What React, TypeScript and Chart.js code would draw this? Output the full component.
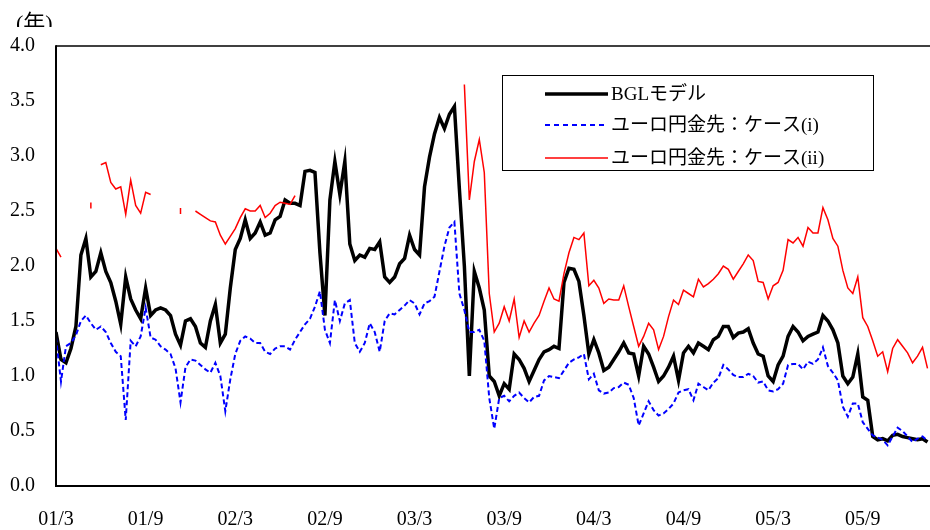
import { useEffect, useRef } from "react";
import { Chart, registerables } from "chart.js";

Chart.register(...registerables);

// Samples are taken three times a month, starting 2001/3.
const SAMPLES_PER_MONTH = 3;

const tickMonths = [0, 6, 12, 18, 24, 30, 36, 42, 48, 54];
const tickLabels = ["01/3", "01/9", "02/3", "02/9", "03/3", "03/9", "04/3", "04/9", "05/3", "05/9"];

const seriesNames = ["BGLモデル", "ユーロ円金先：ケース(i)", "ユーロ円金先：ケース(ii)"];

// BGLモデル (年)
const bglModel = [
  1.40, 1.15, 1.12, 1.25, 1.45, 2.10, 2.25, 1.90, 1.95, 2.12,
  1.95, 1.85, 1.68, 1.47, 1.90, 1.70, 1.60, 1.52, 1.80, 1.55,
  1.60, 1.62, 1.60, 1.55, 1.38, 1.28, 1.50, 1.52, 1.45, 1.30,
  1.26, 1.50, 1.65, 1.30, 1.38, 1.80, 2.15, 2.25, 2.42, 2.25,
  2.30, 2.40, 2.28, 2.30, 2.42, 2.45, 2.60, 2.57, 2.57, 2.55,
  2.86, 2.87, 2.85, 2.12, 1.55, 2.60, 2.95, 2.65, 2.95, 2.20,
  2.05, 2.10, 2.08, 2.16, 2.15, 2.22, 1.90, 1.85, 1.90, 2.02,
  2.07, 2.28, 2.15, 2.10, 2.72, 2.99, 3.20, 3.35, 3.25, 3.38,
  3.45, 2.70, 2.00, 1.00, 1.95, 1.80, 1.60, 1.00, 0.95, 0.82,
  0.93, 0.88, 1.20, 1.15, 1.07, 0.95, 1.05, 1.15, 1.22, 1.24,
  1.27, 1.25, 1.85, 1.98, 1.97, 1.86, 1.55, 1.20, 1.33, 1.21,
  1.05, 1.08, 1.15, 1.22, 1.30, 1.21, 1.20, 1.00, 1.27, 1.20,
  1.08, 0.95, 1.00, 1.08, 1.18, 0.96, 1.21, 1.27, 1.21, 1.30,
  1.27, 1.24, 1.33, 1.36, 1.45, 1.45, 1.35, 1.39, 1.40, 1.43,
  1.30, 1.20, 1.18, 1.00, 0.95, 1.10, 1.18, 1.36, 1.45, 1.40,
  1.32, 1.36, 1.38, 1.40, 1.55, 1.50, 1.42, 1.30, 1.00, 0.93,
  0.99, 1.20, 0.81, 0.78, 0.45, 0.42, 0.43, 0.41, 0.46, 0.47,
  0.45, 0.44, 0.43, 0.42, 0.43, 0.40,
];

// ユーロ円金先：ケース(i)
const euroYenCase1 = [
  1.35, 0.95, 1.27, 1.30, 1.37, 1.50, 1.55, 1.48, 1.42, 1.45,
  1.40, 1.30, 1.22, 1.18, 0.60, 1.32, 1.27, 1.36, 1.62, 1.35,
  1.33, 1.27, 1.24, 1.20, 1.07, 0.76, 1.08, 1.15, 1.14, 1.10,
  1.06, 1.03, 1.12, 1.00, 0.68, 0.97, 1.20, 1.32, 1.36, 1.34,
  1.30, 1.30, 1.22, 1.20, 1.25, 1.27, 1.27, 1.24, 1.33, 1.40,
  1.47, 1.52, 1.63, 1.77, 1.42, 1.30, 1.69, 1.50, 1.66, 1.69,
  1.30, 1.22, 1.30, 1.48, 1.40, 1.22, 1.50, 1.57, 1.56, 1.60,
  1.64, 1.69, 1.66, 1.56, 1.66, 1.68, 1.72, 1.95, 2.18, 2.35,
  2.40, 1.75, 1.60, 1.40, 1.40, 1.42, 1.32, 0.80, 0.52, 0.80,
  0.82, 0.77, 0.82, 0.85, 0.80, 0.76, 0.81, 0.82, 0.96, 1.00,
  0.99, 0.98, 1.05, 1.12, 1.15, 1.17, 1.20, 0.97, 1.02, 0.87,
  0.84, 0.85, 0.89, 0.90, 0.94, 0.92, 0.80, 0.55, 0.66, 0.77,
  0.69, 0.64, 0.66, 0.70, 0.75, 0.85, 0.87, 0.88, 0.78, 0.93,
  0.90, 0.87, 0.94, 0.98, 1.10, 1.06, 1.01, 0.99, 0.99, 1.02,
  1.00, 0.94, 0.95, 0.87, 0.86, 0.88, 0.93, 1.10, 1.11, 1.11,
  1.06, 1.13, 1.11, 1.15, 1.26, 1.09, 1.03, 0.96, 0.72, 0.63,
  0.75, 0.75, 0.58, 0.52, 0.46, 0.44, 0.42, 0.37, 0.45, 0.53,
  0.50, 0.45, 0.40, 0.43, 0.45, 0.41,
];

// ユーロ円金先：ケース(ii) — no estimate on missing dates
const _ = null;
const euroYenCase2 = [
  2.16, 2.08, _, _, _, _, _, 2.55, _, 2.92,
  2.94, 2.76, 2.70, 2.72, 2.47, 2.78, 2.55, 2.48, 2.67, 2.65,
  _, _, _, _, _, 2.50, _, _, 2.50, 2.47,
  2.44, 2.41, 2.40, 2.28, 2.20, 2.27, 2.34, 2.44, 2.52, 2.50,
  2.50, 2.55, 2.44, 2.48, 2.55, 2.58, 2.57, 2.56, 2.64, _,
  _, _, _, _, _, _, _, _, _, _,
  _, _, _, _, _, _, _, _, _, _,
  _, _, _, _, _, _, _, _, _, _,
  _, _, 3.65, 2.60, 2.95, 3.15, 2.85, 1.75, 1.40, 1.48,
  1.63, 1.50, 1.70, 1.35, 1.50, 1.40, 1.48, 1.55, 1.68, 1.80,
  1.70, 1.68, 1.93, 2.12, 2.26, 2.24, 2.30, 1.82, 1.87, 1.80,
  1.66, 1.70, 1.69, 1.69, 1.82, 1.63, 1.45, 1.27, 1.36, 1.48,
  1.42, 1.24, 1.36, 1.54, 1.69, 1.65, 1.78, 1.75, 1.72, 1.88,
  1.81, 1.84, 1.88, 1.93, 2.00, 1.97, 1.88, 1.95, 2.02, 2.10,
  2.05, 1.86, 1.85, 1.70, 1.82, 1.85, 1.96, 2.24, 2.21, 2.26,
  2.18, 2.35, 2.30, 2.30, 2.53, 2.42, 2.25, 2.18, 1.96, 1.80,
  1.75, 1.90, 1.53, 1.45, 1.32, 1.18, 1.22, 1.04, 1.25, 1.33,
  1.27, 1.21, 1.12, 1.18, 1.26, 1.07,
];

const SERIF = '"Liberation Serif", "Times New Roman", "Noto Sans CJK JP", serif';
const COLORS = { bgl: "#000000", case1: "#0000ff", case2: "#ff0000" };

const toPoints = (values: (number | null)[]) =>
  values.map((v, i) => ({ x: i / SAMPLES_PER_MONTH, y: v }));

const isIsolated = (values: (number | null)[], i: number) =>
  values[i] != null && values[i - 1] == null && values[i + 1] == null;

// Frame, unit caption and the boxed legend
const decorations = {
  id: "decorations",
  afterDraw(chart: Chart) {
    const { ctx, chartArea } = chart;
    const { left, right, top, bottom } = chartArea;
    ctx.save();
    ctx.strokeStyle = "#000";
    ctx.lineCap = "butt";
    ctx.lineWidth = 1.5;
    ctx.beginPath();
    ctx.moveTo(left, top);
    ctx.lineTo(right, top);
    ctx.stroke();
    ctx.lineWidth = 2;
    ctx.beginPath();
    ctx.moveTo(left, top - 0.75);
    ctx.lineTo(left, bottom);
    ctx.lineTo(right, bottom);
    ctx.stroke();

    // unit caption
    ctx.save();
    ctx.beginPath();
    ctx.rect(0, 0, 120, 27);
    ctx.clip();
    ctx.fillStyle = "#000";
    ctx.font = `22px ${SERIF}`;
    ctx.textBaseline = "top";
    ctx.textAlign = "left";
    ctx.fillText("(年)", 16, 13);
    ctx.restore();

    // legend
    const bx = 502.5, by = 75.5, bw = 371, bh = 95;
    ctx.fillStyle = "#fff";
    ctx.fillRect(bx, by, bw, bh);
    ctx.lineWidth = 1;
    ctx.strokeRect(bx, by, bw, bh);
    const rows = [
      { y: 94, color: COLORS.bgl, width: 3.5, dash: [] as number[] },
      { y: 125, color: COLORS.case1, width: 2, dash: [5, 4] },
      { y: 158, color: COLORS.case2, width: 1.5, dash: [] as number[] },
    ];
    ctx.font = `19px ${SERIF}`;
    ctx.textBaseline = "middle";
    rows.forEach((r, k) => {
      ctx.strokeStyle = r.color;
      ctx.lineWidth = r.width;
      ctx.setLineDash(r.dash);
      ctx.beginPath();
      ctx.moveTo(545, r.y);
      ctx.lineTo(608, r.y);
      ctx.stroke();
      ctx.setLineDash([]);
      ctx.fillStyle = "#000";
      ctx.fillText(seriesNames[k], 611, r.y + 1);
    });
    ctx.restore();
  },
};

export default function App() {
  const canvasRef = useRef<HTMLCanvasElement>(null);

  useEffect(() => {
    const canvas = canvasRef.current;
    if (!canvas) return;
    const tickFont = { family: SERIF, size: 20 };
    const chart = new Chart(canvas, {
      type: "line",
      data: {
        datasets: [
          {
            label: seriesNames[0],
            data: toPoints(bglModel),
            borderColor: COLORS.bgl,
            borderWidth: 3.5,
            pointRadius: 0,
            tension: 0,
            order: 3,
          },
          {
            label: seriesNames[1],
            data: toPoints(euroYenCase1),
            borderColor: COLORS.case1,
            borderWidth: 2,
            borderDash: [5, 3],
            pointRadius: 0,
            tension: 0,
            order: 2,
          },
          {
            label: seriesNames[2],
            data: toPoints(euroYenCase2),
            borderColor: COLORS.case2,
            borderWidth: 1.5,
            spanGaps: false,
            pointStyle: "line",
            rotation: 90,
            pointBorderColor: COLORS.case2,
            pointBorderWidth: 1.5,
            pointRadius: (c: any) => (isIsolated(euroYenCase2, c.dataIndex) ? 3 : 0),
            tension: 0,
            order: 1,
          },
        ],
      },
      options: {
        animation: false,
        responsive: false,
        parsing: false,
        normalized: true,
        layout: { padding: { top: 46, left: 0, right: 0, bottom: 0 } },
        plugins: {
          legend: { display: false },
          tooltip: { enabled: false },
        },
        scales: {
          x: {
            type: "linear",
            min: 0,
            max: 58.5,
            grid: { display: false, drawTicks: false },
            border: { display: false },
            afterBuildTicks: (scale: any) => {
              scale.ticks = tickMonths.map((value) => ({ value }));
            },
            afterFit: (scale: any) => {
              scale.height = 44;
            },
            ticks: {
              autoSkip: false,
              maxRotation: 0,
              padding: 22,
              color: "#000",
              font: tickFont,
              callback: (v: any) => tickLabels[tickMonths.indexOf(Number(v))] ?? "",
            },
          },
          y: {
            min: 0,
            max: 4,
            grid: { display: false, drawTicks: false },
            border: { display: false },
            afterFit: (scale: any) => {
              scale.width = 56;
            },
            ticks: {
              stepSize: 0.5,
              padding: 21,
              color: "#000",
              font: tickFont,
              callback: (v: any) => Number(v).toFixed(1),
            },
          },
        },
      },
      plugins: [decorations],
    } as any);
    return () => chart.destroy();
  }, []);

  return (
    <div style={{ position: "fixed", left: 0, top: 0, width: 930, height: 530, background: "#fff" }}>
      <canvas ref={canvasRef} width={930} height={530} style={{ display: "block", width: 930, height: 530 }} />
    </div>
  );
}
